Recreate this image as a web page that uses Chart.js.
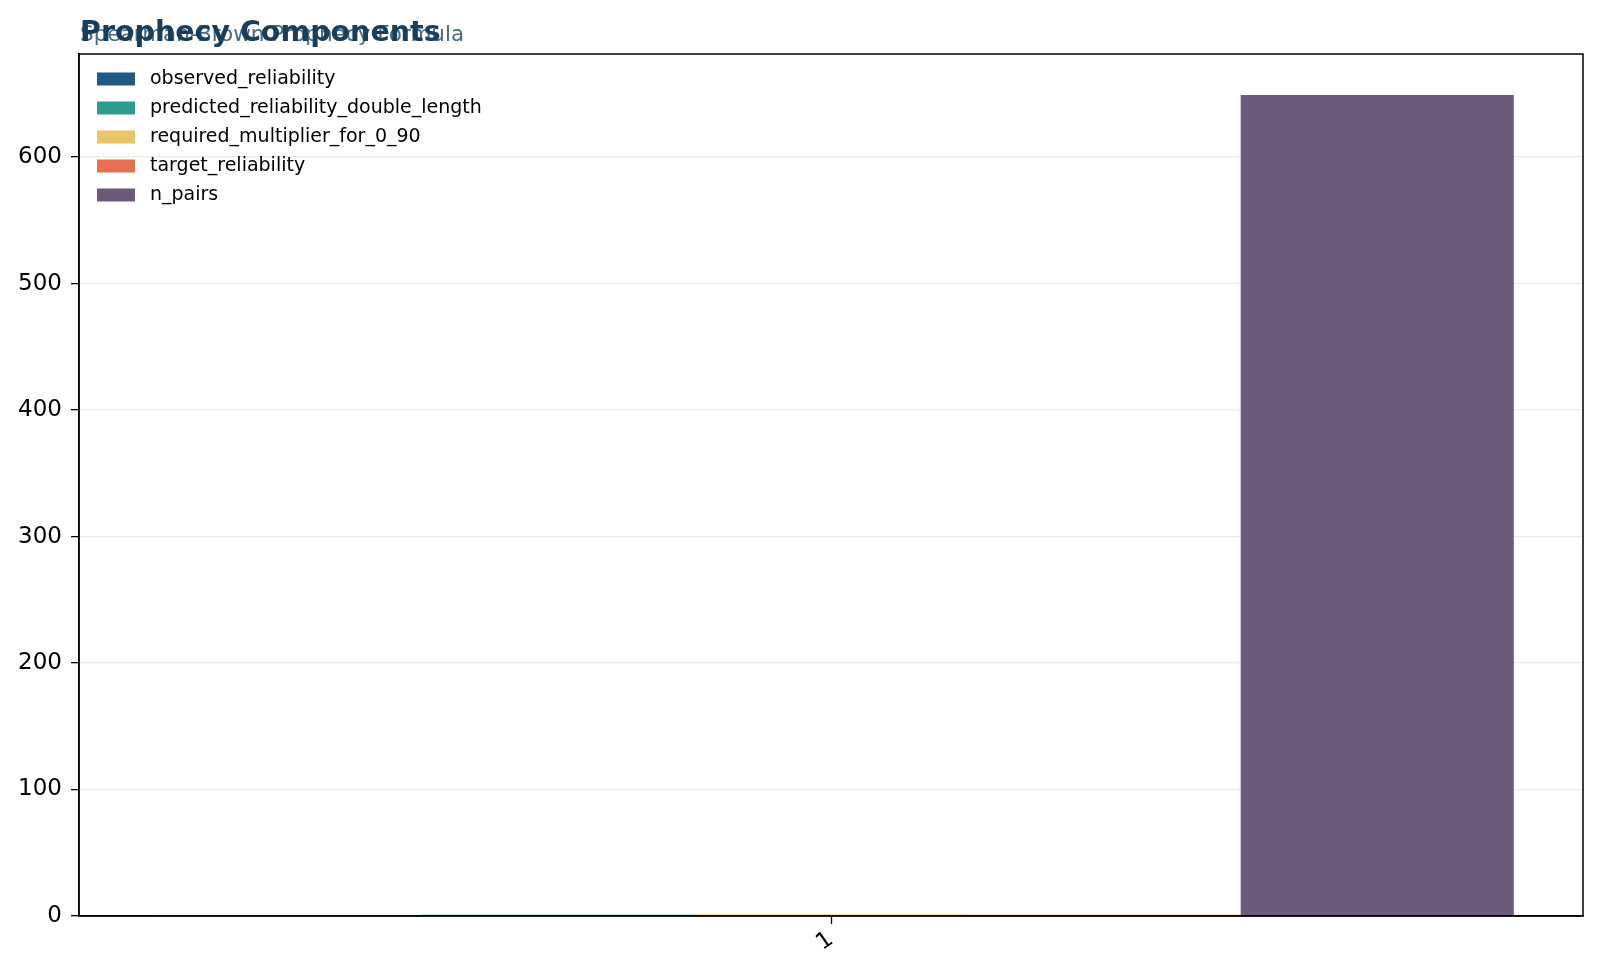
<!DOCTYPE html>
<html>
<head>
<meta charset="utf-8">
<script src="https://cdn.jsdelivr.net/npm/chart.js@4/dist/chart.umd.min.js"></script>
<style>
  html, body { margin: 0; padding: 0; background: #fff; }
  #wrap { width: 1600px; height: 978px; }
</style>
</head>
<body>
<div id="wrap"><canvas id="chart" width="1600" height="978"></canvas></div>
<script>
const categories = ["1"];
const seriesNames = [
    "observed_reliability",
    "predicted_reliability_double_length",
    "required_multiplier_for_0_90",
    "target_reliability",
    "n_pairs"
];
const seriesValues = [
    [0.88],
    [0.94],
    [1.23],
    [0.9],
    [649]
];
const seriesColors = ["#1f5a85", "#2a9d8f", "#e9c46a", "#e76f51", "#6c5a7a"];
const yTicks = [0, 100, 200, 300, 400, 500, 600];

const titleText = "Prophecy Components";
const subtitleText = "Spearman-Brown Prophecy Formula";

const font = "'DejaVu Sans', sans-serif";

// titles, frame and in-plot legend
const decorations = {
    id: "decorations",
    afterDraw(chart) {
        const ctx = chart.ctx;
        const a = chart.chartArea;
        ctx.save();

        ctx.strokeStyle = "#000";
        ctx.lineWidth = 1.5;
        ctx.strokeRect(a.left, a.top, a.right - a.left, a.bottom - a.top);

        ctx.textBaseline = "alphabetic";
        ctx.fillStyle = "#4a6a86";
        ctx.font = "21.5px " + font;
        ctx.fillText(subtitleText, 80, 41);
        ctx.fillStyle = "#1b3d5c";
        ctx.font = "bold 28.5px " + font;
        ctx.fillText(titleText, 80, 41);

        ctx.font = "19px " + font;
        ctx.textBaseline = "middle";
        chart.data.datasets.forEach((ds, i) => {
            const y = 79 + i * 29;
            ctx.fillStyle = ds.backgroundColor;
            ctx.fillRect(97, y - 6.5, 38, 13);
            ctx.fillStyle = "#000";
            ctx.fillText(ds.label, 150, y);
        });
        ctx.restore();
    }
};

new Chart(document.getElementById("chart"), {
    type: "bar",
    data: {
        labels: categories,
        datasets: seriesNames.map((name, i) => ({
            label: name,
            data: seriesValues[i],
            backgroundColor: seriesColors[i],
            borderWidth: 0,
            categoryPercentage: 0.908,
            barPercentage: 1.0
        }))
    },
    options: {
        responsive: false,
        animation: false,
        devicePixelRatio: 1,
        layout: { padding: { top: 54, right: 17, left: 0, bottom: 0 } },
        plugins: {
            legend: { display: false },
            title: { display: false },
            tooltip: { enabled: false }
        },
        scales: {
            x: {
                offset: true,
                grid: {
                    display: true,
                    offset: false,
                    drawOnChartArea: false,
                    tickColor: "#000",
                    tickLength: 8,
                    tickWidth: 1.3
                },
                border: { display: true, color: "#000", width: 1.5 },
                ticks: {
                    color: "#000",
                    font: { family: font, size: 23 },
                    minRotation: 35,
                    maxRotation: 35,
                    padding: 2
                },
                afterFit(scale) { scale.height = 62; }
            },
            y: {
                min: 0,
                max: 681.5,
                afterBuildTicks(scale) {
                    scale.ticks = yTicks.map(v => ({ value: v }));
                },
                grid: {
                    color: "#ebebeb",
                    lineWidth: 1.3,
                    tickColor: "#000",
                    tickLength: 8,
                    tickWidth: 1.3
                },
                border: { display: true, color: "#000", width: 1.5 },
                ticks: {
                    color: "#000",
                    font: { family: font, size: 23 },
                    padding: 9
                },
                afterFit(scale) { scale.width = 79; }
            }
        }
    },
    plugins: [decorations]
});
</script>
</body>
</html>
